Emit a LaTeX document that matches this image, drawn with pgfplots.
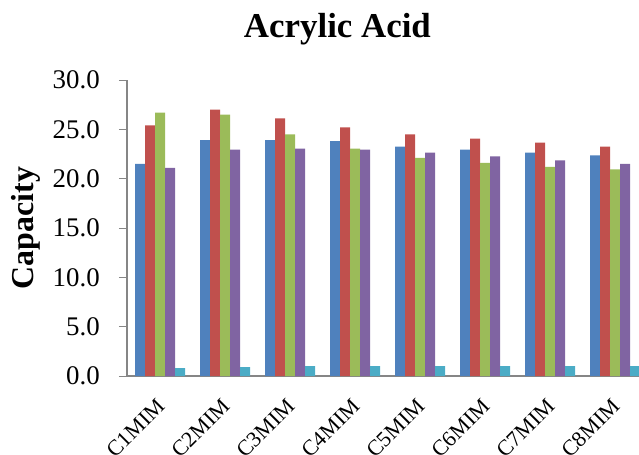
\documentclass[border=0pt]{standalone}
\usepackage{fontspec}
\setmainfont{Liberation Serif}
\usepackage{pgfplots}
\pgfplotsset{compat=1.18}

\definecolor{serA}{HTML}{4F81BD}
\definecolor{serB}{HTML}{C0504D}
\definecolor{serC}{HTML}{9BBB59}
\definecolor{serD}{HTML}{8064A2}
\definecolor{serE}{HTML}{4BACC6}
\definecolor{axisgray}{HTML}{868686}

\begin{document}
\begin{tikzpicture}
% page frame
\path[use as bounding box] (-127bp,-79bp) rectangle (512bp,376bp);
\begin{axis}[
  scale only axis, width=512bp, height=296bp,
  at={(0,0)}, anchor=south west,
  ybar=0pt, bar width=0.1538,
  xmin=-0.508, xmax=7.369, ymin=0, ymax=30,
  enlargelimits=false,
  axis lines=left,
  axis line style={-, draw=axisgray, line width=1.3bp},
  xtick={0,...,7},
  xticklabels={C1MIM,C2MIM,C3MIM,C4MIM,C5MIM,C6MIM,C7MIM,C8MIM},
  x tick style={draw=none},
  ytick={0,5,...,30},
  y tick style={draw=axisgray, line width=1bp},
  tick align=outside, major tick length=8bp,
  yticklabel style={font=\fontsize{27}{27}\selectfont, inner sep=0pt, xshift=-19bp,
    /pgf/number format/.cd, fixed, fixed zerofill, precision=1, assume math mode=true},
  xticklabel style={font=\fontsize{22}{22}\selectfont, inner sep=0pt,
    xshift=-4bp, yshift=-13bp, rotate=45, anchor=north east},
  title={\bfseries Acrylic Acid},
  title style={font=\fontsize{35}{35}\selectfont, at={(axis description cs:0.411,1.124)}, anchor=base},
  ylabel={\bfseries Capacity},
  ylabel style={font=\fontsize{32}{32}\selectfont, at={(axis description cs:-0.197,0.5)}, anchor=center, rotate=0},
  every axis plot/.append style={draw=none},
  clip=true,
]
\addplot[fill=serA] coordinates {(0,21.5) (1,23.9) (2,23.9) (3,23.8) (4,23.25) (5,22.95) (6,22.65) (7,22.35)};
\addplot[fill=serB] coordinates {(0,25.4) (1,27.0) (2,26.1) (3,25.2) (4,24.5) (5,24.05) (6,23.65) (7,23.25)};
\addplot[fill=serC] coordinates {(0,26.7) (1,26.5) (2,24.5) (3,23.05) (4,22.1) (5,21.6) (6,21.2) (7,20.95)};
\addplot[fill=serD] coordinates {(0,21.1) (1,22.95) (2,23.05) (3,22.95) (4,22.65) (5,22.25) (6,21.85) (7,21.5)};
\addplot[fill=serE] coordinates {(0,0.81) (1,0.91) (2,1.0) (3,1.0) (4,1.0) (5,1.0) (6,1.0) (7,1.0)};
\end{axis}
\end{tikzpicture}
\end{document}
